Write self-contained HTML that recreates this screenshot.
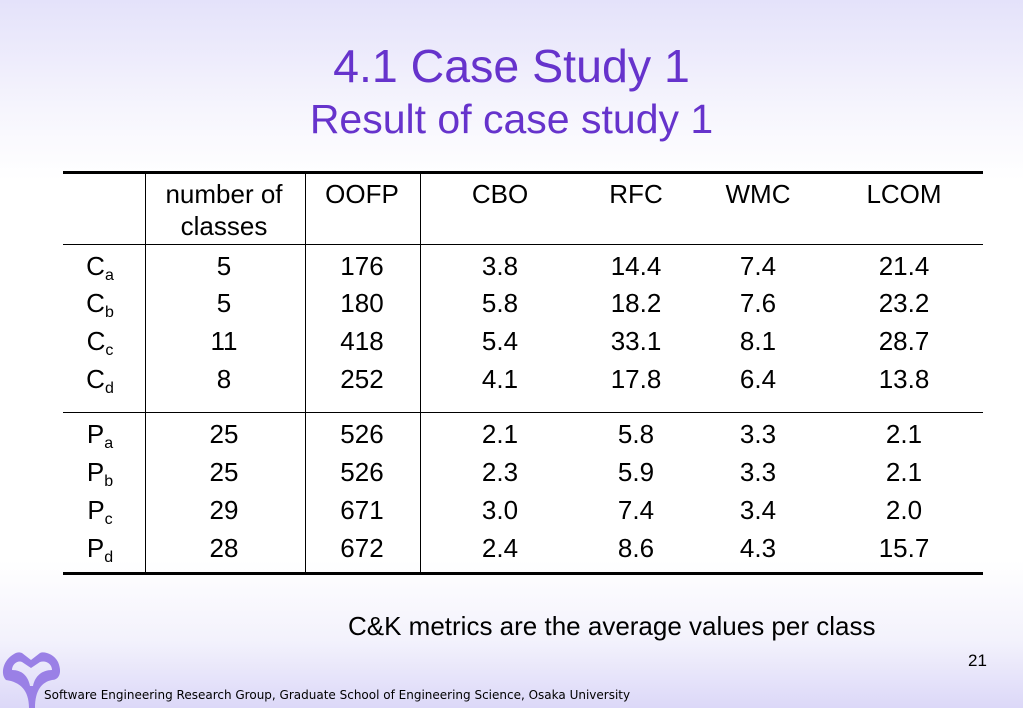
<!DOCTYPE html>
<html><head><meta charset="utf-8"><style>
body{margin:0;width:1023px;height:708px;overflow:hidden;position:relative;font-family:"Liberation Sans",sans-serif;
background:linear-gradient(to bottom,#e4e2fa 0px,#f6f5fd 110px,#ffffff 180px,#ffffff 560px,#f3f2fc 640px,#dcd8f8 708px);}
.t{position:absolute;white-space:nowrap}
.c{position:absolute;transform:translateX(-50%);font-size:26px;color:#000;white-space:nowrap;line-height:28px}
.hl{position:absolute;left:63px;width:920px;background:#000}
.vl{position:absolute;width:1px;background:#000}
sub{font-size:16px;vertical-align:-5px}
</style></head><body>
<div class="t" style="left:0;width:1023px;text-align:center;top:39px;font-size:46.5px;color:#6633cc">4.1 Case Study 1</div>
<div class="t" style="left:0;width:1023px;text-align:center;top:96px;font-size:41px;color:#6633cc">Result of case study 1</div>

<div>
<div class="hl" style="top:171px;height:3px"></div>
<div class="hl" style="top:244px;height:1px"></div>
<div class="hl" style="top:412px;height:1px"></div>
<div class="hl" style="top:572px;height:3px"></div>
<div class="vl" style="left:145px;top:173px;height:400px"></div>
<div class="vl" style="left:305px;top:173px;height:400px"></div>
<div class="vl" style="left:420px;top:173px;height:400px"></div>
<div id="cells"></div>
</div>

<div class="t" style="left:348px;top:611px;font-size:26px">C&amp;K metrics are the average values per class</div>
<div class="t" style="left:968px;top:651px;font-size:17px">21</div>
<svg style="position:absolute;left:0;top:648px" width="64" height="60" viewBox="0 0 64 60">
<path d="M29 60 C29 42 20 34 6 32 C0 26 3 12 14 6 C18 3 22 5 22 5 L31 12 L40 5 C44 3 54 6 58 14 C63 26 58 32 52 32 C42 34 35 42 35 60 Z M30 38 C28 28 22 22 12 22 C12 16 18 12 22 14 L31 20 L40 14 C46 12 52 16 52 22 C42 22 35 28 33 38 Z" fill="#9a80e6" fill-rule="evenodd"/>
</svg>
<div class="t" style="left:44px;top:688px;font-size:12px;font-family:'DejaVu Sans',sans-serif;color:#000">Software Engineering Research Group, Graduate School of Engineering Science, Osaka University</div>
<script>
const colX=[100,224,362,500,636,758,904];
const headers=["number of<br>classes","OOFP","CBO","RFC","WMC","LCOM"];
const labels=["C<sub>a</sub>","C<sub>b</sub>","C<sub>c</sub>","C<sub>d</sub>","P<sub>a</sub>","P<sub>b</sub>","P<sub>c</sub>","P<sub>d</sub>"];
const rows=[["5","176","3.8","14.4","7.4","21.4"],["5","180","5.8","18.2","7.6","23.2"],["11","418","5.4","33.1","8.1","28.7"],["8","252","4.1","17.8","6.4","13.8"],
["25","526","2.1","5.8","3.3","2.1"],["25","526","2.3","5.9","3.3","2.1"],["29","671","3.0","7.4","3.4","2.0"],["28","672","2.4","8.6","4.3","15.7"]];
const rowY=[252,289,327,365,420,458,496,534];
const box=document.getElementById('cells');
headers.forEach((h,i)=>{const d=document.createElement('div');d.className='c';d.style.left=colX[i+1]+'px';d.style.top='178px';d.style.textAlign='center';d.style.lineHeight='32px';d.innerHTML=h;


box.appendChild(d);});
rows.forEach((r,ri)=>{
const l=document.createElement('div');l.className='c';l.style.left=colX[0]+'px';l.style.top=rowY[ri]+'px';l.innerHTML=labels[ri];


box.appendChild(l);
r.forEach((v,ci)=>{const d=document.createElement('div');d.className='c';d.style.left=colX[ci+1]+'px';d.style.top=rowY[ri]+'px';d.textContent=v;


box.appendChild(d);});});
</script>
</body></html>
